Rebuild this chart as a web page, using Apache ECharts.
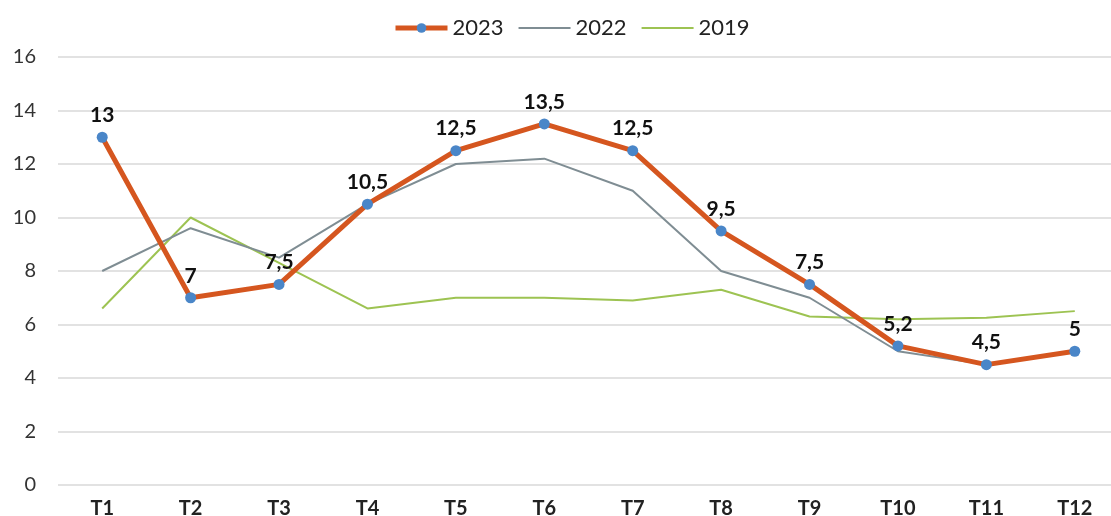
<!DOCTYPE html>
<html>
<head>
<meta charset="utf-8">
<script src="https://cdn.jsdelivr.net/npm/echarts@6/dist/echarts.min.js"></script>
<style>
  html, body { margin: 0; padding: 0; background: #fff; }
  #chart { width: 1111px; height: 516px; }
</style>
</head>
<body>
<div id="chart"></div>
<script>
// Chart data.
const categories = ['T1', 'T2', 'T3', 'T4', 'T5', 'T6', 'T7', 'T8', 'T9', 'T10', 'T11', 'T12'];
const values2023 = [13, 7, 7.5, 10.5, 12.5, 13.5, 12.5, 9.5, 7.5, 5.2, 4.5, 5];
const values2022 = [8, 9.6, 8.5, 10.5, 12, 12.2, 11, 8, 7, 5, 4.5, 5];
const values2019 = [6.6, 10, 8.3, 6.6, 7, 7, 6.9, 7.3, 6.3, 6.2, 6.25, 6.5];
const yTicks = [0, 2, 4, 6, 8, 10, 12, 14, 16];

const font = 'Lato, "Open Sans", sans-serif';
const chart = echarts.init(document.getElementById('chart'));

const option = {
  backgroundColor: '#fff',
  textStyle: { fontFamily: font },
  legend: {
    top: 12,
    left: 388,
    itemWidth: 52,
    itemHeight: 12,
    itemGap: 14,
    textStyle: { fontSize: 22, color: '#222', fontFamily: font },
    data: [
      { name: '2023', lineStyle: { width: 5 } },
      { name: '2022', itemStyle: { opacity: 0 } },
      { name: '2019', itemStyle: { opacity: 0 } }
    ]
  },
  grid: { left: 58, top: 57, right: -8, height: 428, outerBoundsMode: 'none' },
  xAxis: {
    type: 'category',
    data: categories,
    boundaryGap: true,
    axisLine: { show: false },
    axisTick: { show: false },
    axisLabel: { fontSize: 20, fontWeight: 'bold', color: '#222', margin: 14, fontFamily: font }
  },
  yAxis: {
    type: 'value',
    min: yTicks[0],
    max: yTicks[yTicks.length - 1],
    interval: 2,
    axisLabel: { fontSize: 20, color: '#333', margin: 22, fontFamily: font },
    splitLine: { lineStyle: { color: '#d9d9d9', width: 1.5 } }
  },
  series: [
    {
      name: '2019',
      type: 'line',
      data: values2019,
      symbol: 'none',
      z: 1,
      lineStyle: { color: '#9dc352', width: 2 },
      itemStyle: { color: '#9dc352' }
    },
    {
      name: '2022',
      type: 'line',
      data: values2022,
      symbol: 'none',
      z: 2,
      lineStyle: { color: '#7f8d93', width: 2 },
      itemStyle: { color: '#7f8d93' }
    },
    {
      name: '2023',
      type: 'line',
      data: values2023,
      symbol: 'circle',
      symbolSize: 11,
      z: 3,
      lineStyle: { color: '#d5561f', width: 5 },
      itemStyle: { color: '#4a86c8', borderWidth: 0 },
      label: {
        show: true,
        position: 'top',
        distance: 6,
        fontSize: 21,
        fontWeight: 'bold',
        color: '#111',
        fontFamily: font,
        formatter: (p) => String(p.value).replace('.', ',')
      }
    }
  ]
};

chart.setOption(option);
</script>
</body>
</html>
